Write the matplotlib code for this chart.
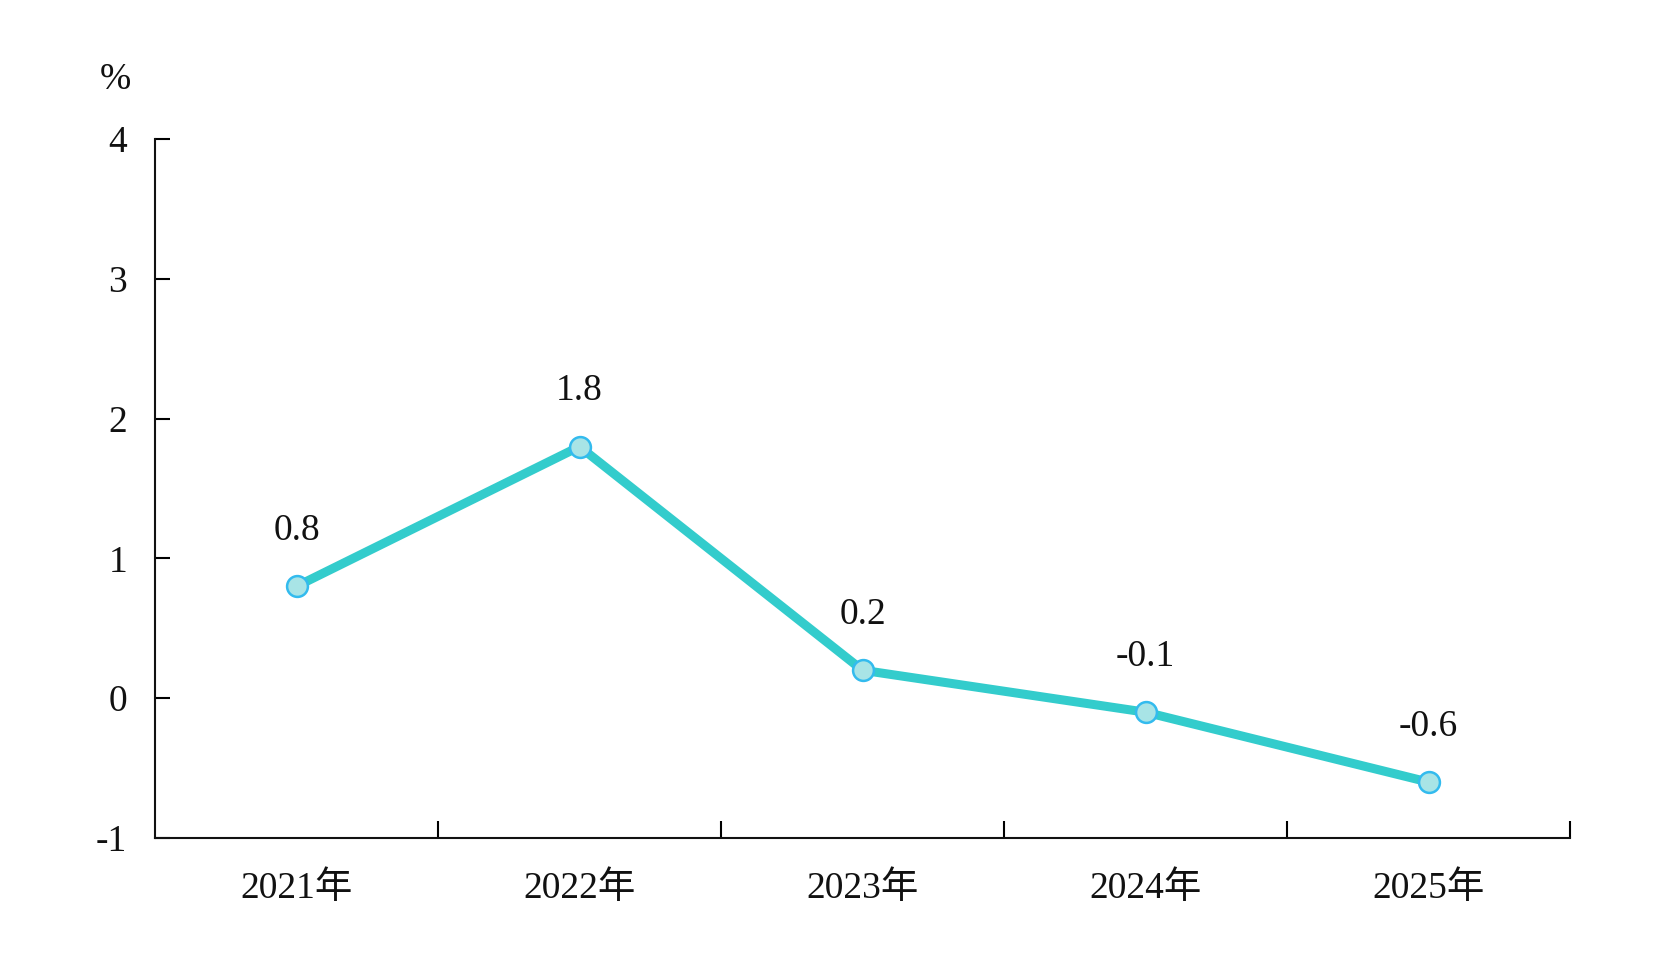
import matplotlib
matplotlib.use("Agg")
import matplotlib.pyplot as plt
from matplotlib.ticker import FixedLocator, NullFormatter

plt.rcParams['font.family'] = ['Liberation Serif', 'Noto Sans CJK SC']

categories = ["2021年", "2022年", "2023年", "2024年", "2025年"]
values = [0.8, 1.8, 0.2, -0.1, -0.6]
labels = ["0.8", "1.8", "0.2", "-0.1", "-0.6"]
yticks = [-1, 0, 1, 2, 3, 4]

fig = plt.figure(figsize=(16.6, 9.68), dpi=100)
ax = fig.add_axes([155/1660, 1-838/968, (1570-155)/1660, (838-139)/968])

x = list(range(len(categories)))
ax.plot(x, values, color='#33CCCC', lw=6.5, solid_capstyle='round', zorder=2)
ax.plot(x, values, ls='none', marker='o', ms=15, mfc='#A8E4E6', mec='#33BBEE', mew=1.8, zorder=3)
for xi, v, t in zip(x, values, labels):
    ax.annotate(t, (xi, v), xytext=(0, 40), textcoords='offset points',
                ha='center', va='center', fontsize=27, color='#111111')

ax.set_xlim(-0.5, len(categories) - 0.5)
ax.set_ylim(-1, 4)
ax.set_yticks(yticks)
ax.set_yticklabels([str(t) for t in yticks])
ax.xaxis.set_major_locator(FixedLocator([i + 0.5 for i in range(len(categories))]))
ax.xaxis.set_major_formatter(NullFormatter())
ax.xaxis.set_minor_locator(FixedLocator(x))
ax.set_xticklabels(categories, minor=True)
ax.tick_params(axis='x', which='minor', length=0, pad=24, labelsize=27, labelcolor='#111111')
ax.tick_params(axis='x', which='major', direction='in', length=12, width=1.5)
ax.tick_params(axis='y', direction='in', length=11, width=1.5, labelsize=27, pad=20, labelcolor='#111111')
for s in ['top', 'right']:
    ax.spines[s].set_visible(False)
for s in ['left', 'bottom']:
    ax.spines[s].set_linewidth(1.5)
    ax.spines[s].set_color('#111111')

fig.text(115/1660, 1-80/968, '%', ha='center', va='center', fontsize=27, color='#111111')

fig.savefig('out.png', dpi=100, facecolor='white')
